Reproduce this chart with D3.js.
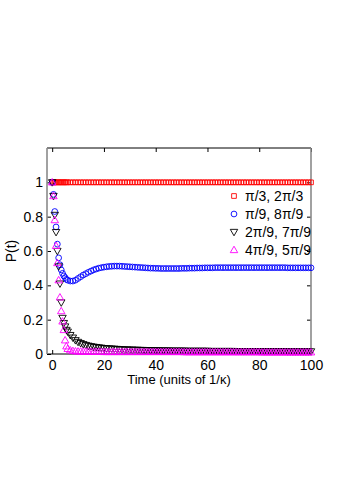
<!DOCTYPE html>
<html>
<head>
<meta charset="utf-8">
<script src="https://d3js.org/d3.v7.min.js"></script>
<style>
  body { margin: 0; background: #fff; }
  svg { font-family: "Liberation Sans", Arial, sans-serif; }
</style>
</head>
<body>
<script>
// ____________ data
var times = [0, 0.5, 1, 1.5, 2, 2.5, 3, 3.5, 4, 4.5, 5, 5.5, 6,
  7, 8, 9, 10, 11, 12, 13, 14, 15, 16, 17, 18, 19, 20,
  21, 22, 23, 24, 25, 26, 27, 28, 29, 30, 31, 32, 33, 34, 35, 36, 37, 38, 39, 40,
  41, 42, 43, 44, 45, 46, 47, 48, 49, 50, 51, 52, 53, 54, 55, 56, 57, 58, 59, 60,
  61, 62, 63, 64, 65, 66, 67, 68, 69, 70, 71, 72, 73, 74, 75, 76, 77, 78, 79, 80,
  81, 82, 83, 84, 85, 86, 87, 88, 89, 90, 91, 92, 93, 94, 95, 96, 97, 98, 99, 100]

var pRed = [1, 1, 1, 1, 1, 1, 1, 1, 1, 1, 1, 1, 1,
  1, 1, 1, 1, 1, 1, 1, 1, 1, 1, 1, 1, 1, 1,
  1, 1, 1, 1, 1, 1, 1, 1, 1, 1, 1, 1, 1, 1, 1, 1, 1, 1, 1, 1,
  1, 1, 1, 1, 1, 1, 1, 1, 1, 1, 1, 1, 1, 1, 1, 1, 1, 1, 1, 1,
  1, 1, 1, 1, 1, 1, 1, 1, 1, 1, 1, 1, 1, 1, 1, 1, 1, 1, 1, 1,
  1, 1, 1, 1, 1, 1, 1, 1, 1, 1, 1, 1, 1, 1, 1, 1, 1, 1, 1, 1]

var pBlue = [1, 0.93, 0.83, 0.74, 0.64, 0.56, 0.52, 0.49, 0.47, 0.455, 0.445, 0.435, 0.43,
  0.425, 0.425, 0.43, 0.44, 0.45, 0.46, 0.468, 0.476, 0.483, 0.49, 0.495, 0.5, 0.503, 0.506,
  0.508, 0.51, 0.511, 0.512, 0.512, 0.512, 0.511, 0.51, 0.509, 0.508, 0.507, 0.506, 0.505, 0.504, 0.503, 0.502, 0.501, 0.5, 0.5, 0.499,
  0.499, 0.498, 0.498, 0.498, 0.498, 0.498, 0.498, 0.498, 0.498, 0.499, 0.499, 0.499, 0.5, 0.5, 0.5, 0.501, 0.501, 0.501, 0.502, 0.502,
  0.502, 0.502, 0.503, 0.503, 0.503, 0.503, 0.503, 0.503, 0.503, 0.503, 0.503, 0.503, 0.503, 0.503, 0.503, 0.503, 0.503, 0.503, 0.503, 0.503,
  0.503, 0.503, 0.503, 0.503, 0.503, 0.503, 0.503, 0.503, 0.503, 0.503, 0.502, 0.502, 0.502, 0.502, 0.502, 0.502, 0.502, 0.502, 0.502, 0.502]

var pBlack = [1, 0.92, 0.81, 0.71, 0.6, 0.51, 0.41, 0.3, 0.21, 0.18, 0.16, 0.14, 0.13,
  0.11, 0.095, 0.08, 0.07, 0.063, 0.057, 0.052, 0.048, 0.045, 0.042, 0.04, 0.038, 0.036, 0.034,
  0.033, 0.032, 0.031, 0.03, 0.029, 0.028, 0.027, 0.026, 0.026, 0.025, 0.025, 0.024, 0.024, 0.023, 0.023, 0.022, 0.022, 0.022, 0.021, 0.021,
  0.021, 0.02, 0.02, 0.02, 0.02, 0.019, 0.019, 0.019, 0.019, 0.019, 0.019, 0.018, 0.018, 0.018, 0.018, 0.018, 0.018, 0.018, 0.018, 0.018,
  0.017, 0.017, 0.017, 0.017, 0.017, 0.017, 0.017, 0.017, 0.017, 0.017, 0.016, 0.016, 0.016, 0.016, 0.016, 0.016, 0.016, 0.016, 0.016, 0.016,
  0.016, 0.016, 0.016, 0.016, 0.016, 0.016, 0.016, 0.016, 0.016, 0.016, 0.015, 0.015, 0.015, 0.015, 0.015, 0.015, 0.015, 0.015, 0.015, 0.015]

var pMagenta = [1, 0.92, 0.78, 0.63, 0.53, 0.43, 0.33, 0.25, 0.19, 0.14, 0.08, 0.045, 0.03,
  0.022, 0.018, 0.016, 0.015, 0.015, 0.014, 0.014, 0.014, 0.013, 0.013, 0.013, 0.013, 0.013, 0.012,
  0.012, 0.012, 0.012, 0.012, 0.012, 0.012, 0.012, 0.012, 0.012, 0.012, 0.012, 0.012, 0.012, 0.012, 0.012, 0.012, 0.012, 0.012, 0.012, 0.012,
  0.012, 0.012, 0.012, 0.012, 0.012, 0.012, 0.012, 0.012, 0.012, 0.012, 0.011, 0.011, 0.011, 0.011, 0.011, 0.011, 0.011, 0.011, 0.011, 0.011,
  0.011, 0.011, 0.011, 0.011, 0.011, 0.011, 0.011, 0.011, 0.011, 0.011, 0.011, 0.011, 0.011, 0.011, 0.011, 0.011, 0.011, 0.011, 0.011, 0.011,
  0.01, 0.01, 0.01, 0.01, 0.01, 0.01, 0.01, 0.01, 0.01, 0.01, 0.01, 0.01, 0.01, 0.01, 0.01, 0.01, 0.01, 0.01, 0.01, 0.01]

var seriesNames = ["π/3, 2π/3", "π/9, 8π/9", "2π/9, 7π/9", "4π/9, 5π/9"]
var seriesValues = [pRed, pBlue, pBlack, pMagenta]
var seriesColors = ["#ff0000", "#0000ff", "#000000", "#ff00ff"]
var seriesMarkers = ["square", "circle", "down", "up"]

var xTicks = [0, 20, 40, 60, 80, 100]
var yTicks = [0, 0.2, 0.4, 0.6, 0.8, 1]

// ____________ layout
var width = 338, height = 486
var box = { left: 47, right: 311, top: 148, bottom: 354 }
var tickFont = 14

var svg = d3.select("body").append("svg")
  .attr("width", width)
  .attr("height", height)

var x = d3.scaleLinear().domain([-2, 100]).range([box.left, box.right])
var y = d3.scaleLinear().domain([0, 1.2]).range([box.bottom, box.top])

// markers
function markerPath(kind) {
  if (kind == "square") return d3.symbol().type(d3.symbolSquare).size(22)()
  if (kind == "circle") return d3.symbol().type(d3.symbolCircle).size(26)()
  return d3.symbol().type(d3.symbolTriangle).size(24)()
}
function markerTransform(kind, px, py) {
  if (kind == "down") return "translate(" + px + "," + (py - 0.5) + ") rotate(180)"
  if (kind == "up") return "translate(" + px + "," + (py + 0.5) + ")"
  return "translate(" + px + "," + py + ")"
}

// ____________ axes (ticks inward, on all four sides)
var tickLen = 4
svg.append("g")
  .attr("transform", "translate(0," + box.bottom + ")")
  .call(d3.axisBottom(x).tickValues(xTicks).tickSize(-tickLen).tickPadding(6).tickFormat(d3.format("d")))
  .call(function (g) {
    g.select(".domain").remove()
    g.selectAll("text").attr("font-size", tickFont).attr("fill", "#000").attr("font-family", "Liberation Sans, Arial, sans-serif")
  })
svg.append("g")
  .attr("transform", "translate(0," + box.top + ")")
  .call(d3.axisTop(x).tickValues(xTicks).tickSize(-tickLen).tickFormat(""))
  .call(function (g) { g.select(".domain").remove() })
svg.append("g")
  .attr("transform", "translate(" + box.left + ",0)")
  .call(d3.axisLeft(y).tickValues(yTicks).tickSize(-tickLen).tickPadding(4).tickFormat(function (d) { return d == 0 ? "0" : d == 1 ? "1" : d3.format(".1f")(d) }))
  .call(function (g) {
    g.select(".domain").remove()
    g.selectAll("text").attr("font-size", tickFont).attr("fill", "#000").attr("font-family", "Liberation Sans, Arial, sans-serif")
  })
svg.append("g")
  .attr("transform", "translate(" + box.right + ",0)")
  .call(d3.axisRight(y).tickValues(yTicks).tickSize(-tickLen).tickFormat(""))
  .call(function (g) { g.select(".domain").remove() })

// frame: black top/bottom, grey left/right
svg.append("line").attr("x1", box.left).attr("x2", box.right).attr("y1", box.top).attr("y2", box.top)
  .attr("stroke", "#000").attr("stroke-width", 1)
svg.append("line").attr("x1", box.left).attr("x2", box.right).attr("y1", box.bottom).attr("y2", box.bottom)
  .attr("stroke", "#000").attr("stroke-width", 1)
svg.append("line").attr("x1", box.left).attr("x2", box.left).attr("y1", box.top).attr("y2", box.bottom)
  .attr("stroke", "#8a8a8a").attr("stroke-width", 1.6)
svg.append("line").attr("x1", box.right).attr("x2", box.right).attr("y1", box.top).attr("y2", box.bottom)
  .attr("stroke", "#8a8a8a").attr("stroke-width", 1.6)

// ____________ series
seriesValues.forEach(function (vals, s) {
  var pts = vals.map(function (v, i) { return { t: times[i], p: v } })
  svg.append("g").attr("class", "series-" + s)
    .selectAll("path")
    .data(pts)
    .enter()
    .append("path")
      .attr("d", markerPath(seriesMarkers[s]))
      .attr("transform", function (d) { return markerTransform(seriesMarkers[s], x(d.t), y(d.p)) })
      .attr("fill", "none")
      .attr("stroke", seriesColors[s])
      .attr("stroke-width", 0.9)
})

// ____________ legend
var legend = svg.append("g").attr("transform", "translate(234,196)")
seriesNames.forEach(function (name, s) {
  var row = legend.append("g").attr("transform", "translate(0," + (s * 18) + ")")
  row.append("path")
    .attr("d", markerPath(seriesMarkers[s]))
    .attr("transform", markerTransform(seriesMarkers[s], 0, 0))
    .attr("fill", "none")
    .attr("stroke", seriesColors[s])
    .attr("stroke-width", 0.9)
  row.append("text")
    .attr("x", 11)
    .attr("y", 5)
    .attr("font-size", 14)
    .text(name)
})

// ____________ axis labels
svg.append("text")
  .attr("x", (box.left + box.right) / 2)
  .attr("y", 384)
  .attr("text-anchor", "middle")
  .attr("font-size", 13)
  .text("Time (units of 1/κ)")

svg.append("text")
  .attr("transform", "translate(16," + ((box.top + box.bottom) / 2) + ") rotate(-90)")
  .attr("text-anchor", "middle")
  .attr("font-size", 14)
  .text("P(t)")
</script>
</body>
</html>
